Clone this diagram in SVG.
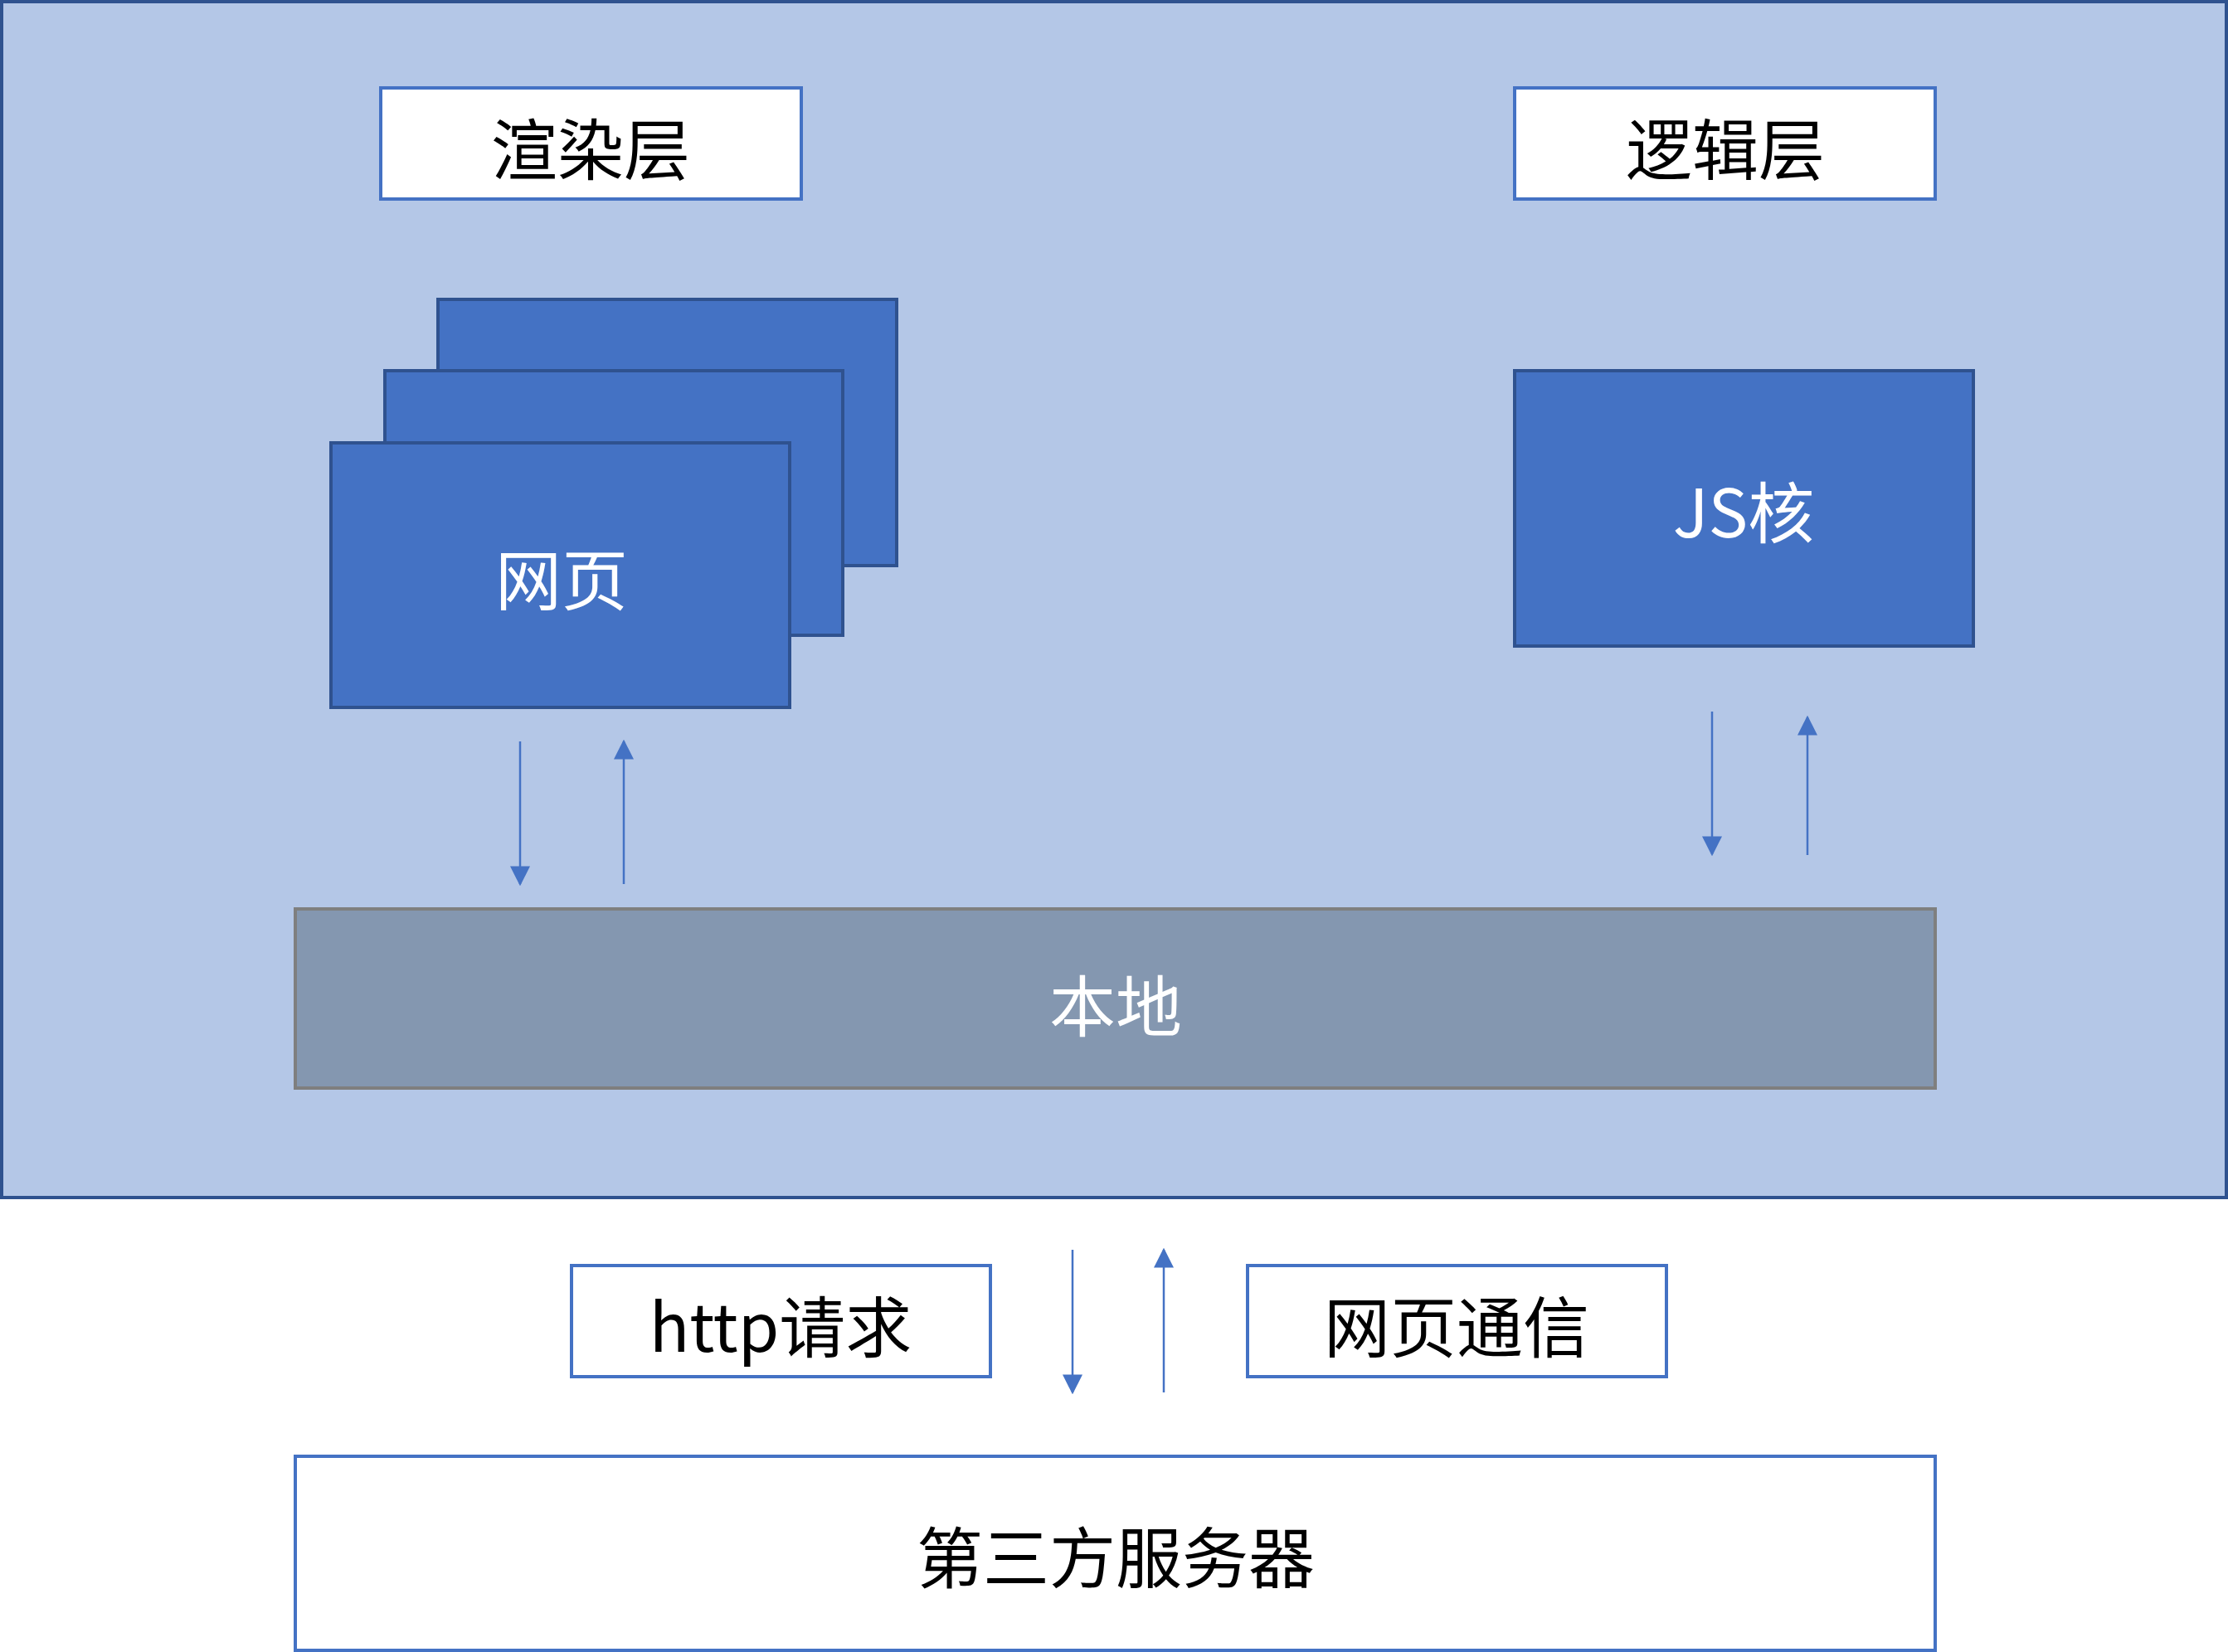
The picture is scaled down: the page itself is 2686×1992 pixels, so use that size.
<svg xmlns="http://www.w3.org/2000/svg" width="2686" height="1992" viewBox="0 0 2686 1992">
<style>
text{font-family:"Noto Sans CJK SC","Liberation Sans",sans-serif;font-size:80px;text-anchor:middle;dominant-baseline:central}
.lbl{fill:#fff;stroke:#4472C4;stroke-width:4}
.blue{fill:#4472C4;stroke:#2F528F;stroke-width:4}
.w{fill:#fff}
.con line{stroke:#4472C4;stroke-width:2.5}
</style>
<defs><marker id="ah" markerWidth="8" markerHeight="8" refX="7" refY="4" orient="auto" markerUnits="userSpaceOnUse" viewBox="0 0 8 8"><path d="M0,0L8,4L0,8z" fill="#4472C4"/></marker>
<marker id="a" viewBox="0 0 10 10" refX="9" refY="5" markerWidth="24" markerHeight="24" markerUnits="userSpaceOnUse" orient="auto"><path d="M0,0L10,5L0,10z" fill="#4472C4"/></marker></defs>
<rect x="2" y="2" width="2682" height="1442" fill="#B4C7E7" stroke="#2F528F" stroke-width="4"/>
<g id="render"><rect class="lbl" x="459" y="106" width="507" height="134"/><text x="712" y="175">渲染层</text></g>
<g id="logic"><rect class="lbl" x="1826" y="106" width="507" height="134"/><text x="2080" y="175">逻辑层</text></g>
<g id="pages"><rect class="blue" x="528" y="361" width="553" height="321"/><rect class="blue" x="464" y="447" width="552" height="319"/><rect class="blue" x="399" y="534" width="553" height="319"/><text class="w" x="677" y="694">网页</text></g>
<g id="js"><rect class="blue" x="1826" y="447" width="553" height="332"/><text class="w" x="2102" y="613">JS核</text></g>
<g id="local"><rect x="356" y="1096" width="1977" height="216" fill="#8497B0" stroke="#7F7F7F" stroke-width="4"/><text class="w" x="1345" y="1208">本地</text></g>
<g id="http"><rect class="lbl" x="689" y="1526" width="505" height="134"/><text x="941" y="1595">http请求</text></g>
<g id="comm"><rect class="lbl" x="1504" y="1526" width="505" height="134"/><text x="1756" y="1595">网页通信</text></g>
<g id="server"><rect class="lbl" x="356" y="1756" width="1977" height="234"/><text x="1345" y="1873">第三方服务器</text></g>
<g class="con" id="connectors">
<line x1="627" y1="894" x2="627" y2="1066" marker-end="url(#a)"/>
<line x1="752" y1="1066" x2="752" y2="894" marker-end="url(#a)"/>
<line x1="2064" y1="858" x2="2064" y2="1030" marker-end="url(#a)"/>
<line x1="2179" y1="1031" x2="2179" y2="865" marker-end="url(#a)"/>
<line x1="1293" y1="1507" x2="1293" y2="1679" marker-end="url(#a)"/>
<line x1="1403" y1="1679" x2="1403" y2="1507" marker-end="url(#a)"/>
</g>
</svg>
